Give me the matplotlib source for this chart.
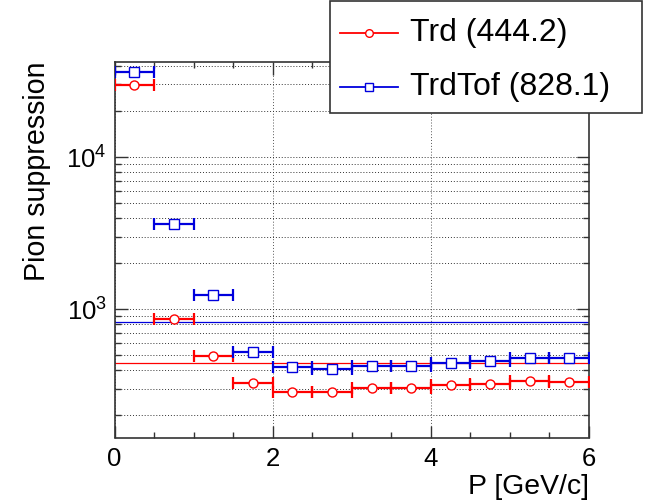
import matplotlib
matplotlib.use("Agg")
import matplotlib.pyplot as plt
from matplotlib.lines import Line2D
from matplotlib.patches import Rectangle
from matplotlib.ticker import LogLocator, NullFormatter, FixedLocator, FuncFormatter
import numpy as np

plt.rcParams['font.family'] = ['Liberation Sans', 'DejaVu Sans']
plt.rcParams['mathtext.fontset'] = 'custom'
plt.rcParams['mathtext.rm'] = 'Liberation Sans'
plt.rcParams['mathtext.it'] = 'Liberation Sans:italic'

# ---- data ----
p_centers = [0.25, 0.75, 1.25, 1.75, 2.25, 2.75, 3.25, 3.75, 4.25, 4.75, 5.25, 5.75]
p_halfwidth = [0.25] * 12
trd = [29600, 863, 493, 326, 284, 283, 301, 303, 315, 320, 337, 333]
trdtof = [36400, 3640, 1236, 524, 417, 403, 420, 423, 440, 453, 477, 477]
trd_avg = 444.2
trdtof_avg = 828.1
x_ticks = [0, 2, 4, 6]

W, H = 645, 504
fig = plt.figure(figsize=(W / 100, H / 100), dpi=100)
L, R, T, B = 114.5, 589, 61.5, 437.5
ax = fig.add_axes([L / W, 1 - B / H, (R - L) / W, (B - T) / H])

ax.set_yscale('log')
ax.set_xlim(0, 6)
ax.set_ylim(143, 42500)

red = '#ff0000'
blue = '#0000dd'

# average lines
ax.axhline(trd_avg, color=red, lw=0.9, zorder=2)
ax.axhline(trdtof_avg, color=blue, lw=0.9, zorder=2)

for vals, col, mk in [(trd, red, 'o'), (trdtof, blue, 's')]:
    ax.errorbar(p_centers, vals, xerr=p_halfwidth, fmt='none', ecolor=col,
                elinewidth=1.6, capsize=4, capthick=1.6, zorder=3)
    ax.plot(p_centers, vals, linestyle='none', marker=mk, markersize=6.5,
            markerfacecolor='white', markeredgecolor=col, markeredgewidth=1.0,
            zorder=4)

# grid
ax.xaxis.set_major_locator(FixedLocator(x_ticks))
ax.xaxis.set_minor_locator(FixedLocator(np.arange(0, 6.01, 0.5)))
ax.yaxis.set_major_locator(LogLocator(base=10, numticks=10))
ax.yaxis.set_minor_locator(LogLocator(base=10, subs=np.arange(2, 10), numticks=20))
ax.yaxis.set_minor_formatter(NullFormatter())
ax.yaxis.set_major_formatter(FuncFormatter(lambda v, pos: r'$10^{%d}$' % int(round(np.log10(v)))))

ax.grid(True, which='major', axis='x', color='#555555', linestyle=(0, (1, 2)), lw=0.7)
ax.grid(True, which='both', axis='y', color='#333333', linestyle=(0, (1, 2)), lw=0.7)
ax.set_axisbelow(True)

ax.tick_params(which='both', direction='in', top=True, right=True, width=1.0, color='#333333')
ax.tick_params(which='major', length=9)
ax.tick_params(which='minor', length=4.5)
ax.tick_params(axis='x', which='major', labelsize=18.5, pad=6.5)
ax.tick_params(axis='y', which='major', labelsize=18.5, pad=5.5)
for s in ax.spines.values():
    s.set_linewidth(1.2)
    s.set_color('#333333')

fig.text(37.5 / W, 1 - 61.5 / H, 'Pion suppression', rotation=90, ha='center', va='top', fontsize=20.6)
fig.text(589 / W, 1 - 487 / H, 'P [GeV/c]', ha='right', va='center', fontsize=20.4)

# legend box
fig.patches.append(Rectangle((330 / W, 1 - 113 / H), (642 - 330) / W, (113 - 1) / H,
                             transform=fig.transFigure, facecolor='white',
                             edgecolor='#333333', lw=1.2, zorder=5))
for yy, col, mk, lab in [(33, red, 'o', f'Trd ({trd_avg})'), (87, blue, 's', f'TrdTof ({trdtof_avg})')]:
    yf = 1 - yy / H
    fig.lines.append(Line2D([340 / W, 398 / W], [yf, yf], transform=fig.transFigure,
                            color=col, lw=1.3, zorder=6))
    fig.lines.append(Line2D([369 / W], [yf], transform=fig.transFigure, marker=mk,
                            markersize=5.5, markerfacecolor='white', markeredgecolor=col,
                            markeredgewidth=1.0, linestyle='none', zorder=7))
    fig.text(410 / W, yf, lab, ha='left', va='center', fontsize=23, zorder=8)

fig.savefig('out.png', dpi=100)
